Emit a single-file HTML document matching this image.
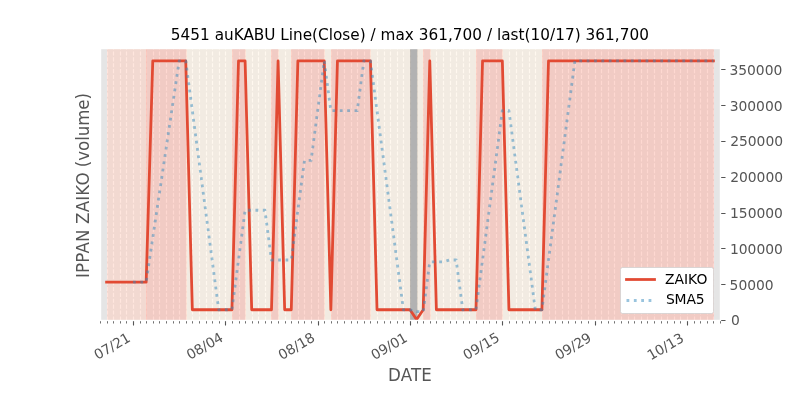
<!DOCTYPE html>
<html><head><meta charset="utf-8"><title>5451 auKABU</title><style>html,body{margin:0;padding:0;background:#fff;overflow:hidden}svg{display:block}</style></head><body>
<svg width="800" height="400" viewBox="0 0 800 400">
<defs><clipPath id="ax"><rect x="100" y="48" width="620" height="272"/></clipPath></defs>
<rect width="800" height="400" fill="#fff"/>
<rect x="100" y="48" width="620" height="272" fill="#e5e5e5"/>
<g clip-path="url(#ax)">
<path d="M100.5 320.5V48.5M107.5 320.5V48.5M113.5 320.5V48.5M120.5 320.5V48.5M126.5 320.5V48.5M133.5 320.5V48.5M140.5 320.5V48.5M146.5 320.5V48.5M153.5 320.5V48.5M159.5 320.5V48.5M166.5 320.5V48.5M173.5 320.5V48.5M179.5 320.5V48.5M186.5 320.5V48.5M192.5 320.5V48.5M199.5 320.5V48.5M206.5 320.5V48.5M212.5 320.5V48.5M219.5 320.5V48.5M225.5 320.5V48.5M232.5 320.5V48.5M239.5 320.5V48.5M245.5 320.5V48.5M252.5 320.5V48.5M258.5 320.5V48.5M265.5 320.5V48.5M271.5 320.5V48.5M278.5 320.5V48.5M285.5 320.5V48.5M291.5 320.5V48.5M298.5 320.5V48.5M304.5 320.5V48.5M311.5 320.5V48.5M318.5 320.5V48.5M324.5 320.5V48.5M331.5 320.5V48.5M337.5 320.5V48.5M344.5 320.5V48.5M351.5 320.5V48.5M357.5 320.5V48.5M364.5 320.5V48.5M370.5 320.5V48.5M377.5 320.5V48.5M384.5 320.5V48.5M390.5 320.5V48.5M397.5 320.5V48.5M403.5 320.5V48.5M410.5 320.5V48.5M417.5 320.5V48.5M423.5 320.5V48.5M430.5 320.5V48.5M436.5 320.5V48.5M443.5 320.5V48.5M450.5 320.5V48.5M456.5 320.5V48.5M463.5 320.5V48.5M469.5 320.5V48.5M476.5 320.5V48.5M483.5 320.5V48.5M489.5 320.5V48.5M496.5 320.5V48.5M502.5 320.5V48.5M509.5 320.5V48.5M516.5 320.5V48.5M522.5 320.5V48.5M529.5 320.5V48.5M535.5 320.5V48.5M542.5 320.5V48.5M549.5 320.5V48.5M555.5 320.5V48.5M562.5 320.5V48.5M568.5 320.5V48.5M575.5 320.5V48.5M581.5 320.5V48.5M588.5 320.5V48.5M595.5 320.5V48.5M601.5 320.5V48.5M608.5 320.5V48.5M614.5 320.5V48.5M621.5 320.5V48.5M628.5 320.5V48.5M634.5 320.5V48.5M641.5 320.5V48.5M647.5 320.5V48.5M654.5 320.5V48.5M661.5 320.5V48.5M667.5 320.5V48.5M674.5 320.5V48.5M680.5 320.5V48.5M687.5 320.5V48.5M694.5 320.5V48.5M700.5 320.5V48.5M707.5 320.5V48.5M713.5 320.5V48.5M720.5 320.5V48.5" fill="none" stroke="#fff" stroke-width="1.111" stroke-dasharray="4.111 1.778"/>
<rect x="107.5" y="48.5" width="39" height="272" fill="#ffcdbd" fill-opacity=".5" stroke="#ffcdbd" stroke-opacity=".5" stroke-width="0.694"/>
<rect x="146.5" y="48.5" width="40" height="272" fill="#fdb1a3" fill-opacity=".5" stroke="#fdb1a3" stroke-opacity=".5" stroke-width="0.694"/>
<rect x="186.5" y="48.5" width="46" height="272" fill="#fff1df" fill-opacity=".5" stroke="#fff1df" stroke-opacity=".5" stroke-width="0.694"/>
<rect x="232.5" y="48.5" width="13" height="272" fill="#fdb1a3" fill-opacity=".5" stroke="#fdb1a3" stroke-opacity=".5" stroke-width="0.694"/>
<rect x="245.5" y="48.5" width="26" height="272" fill="#fff1df" fill-opacity=".5" stroke="#fff1df" stroke-opacity=".5" stroke-width="0.694"/>
<rect x="271.5" y="48.5" width="7" height="272" fill="#fdb1a3" fill-opacity=".5" stroke="#fdb1a3" stroke-opacity=".5" stroke-width="0.694"/>
<rect x="278.5" y="48.5" width="13" height="272" fill="#fff1df" fill-opacity=".5" stroke="#fff1df" stroke-opacity=".5" stroke-width="0.694"/>
<rect x="291.5" y="48.5" width="33" height="272" fill="#fdb1a3" fill-opacity=".5" stroke="#fdb1a3" stroke-opacity=".5" stroke-width="0.694"/>
<rect x="324.5" y="48.5" width="7" height="272" fill="#fff1df" fill-opacity=".5" stroke="#fff1df" stroke-opacity=".5" stroke-width="0.694"/>
<rect x="331.5" y="48.5" width="39" height="272" fill="#fdb1a3" fill-opacity=".5" stroke="#fdb1a3" stroke-opacity=".5" stroke-width="0.694"/>
<rect x="370.5" y="48.5" width="40" height="272" fill="#fff1df" fill-opacity=".5" stroke="#fff1df" stroke-opacity=".5" stroke-width="0.694"/>
<rect x="410.5" y="48.5" width="7" height="272" fill="#808080" fill-opacity=".5" stroke="#808080" stroke-opacity=".5" stroke-width="0.694"/>
<rect x="417.5" y="48.5" width="6" height="272" fill="#fff1df" fill-opacity=".5" stroke="#fff1df" stroke-opacity=".5" stroke-width="0.694"/>
<rect x="423.5" y="48.5" width="7" height="272" fill="#fdb1a3" fill-opacity=".5" stroke="#fdb1a3" stroke-opacity=".5" stroke-width="0.694"/>
<rect x="430.5" y="48.5" width="46" height="272" fill="#fff1df" fill-opacity=".5" stroke="#fff1df" stroke-opacity=".5" stroke-width="0.694"/>
<rect x="476.5" y="48.5" width="26" height="272" fill="#fdb1a3" fill-opacity=".5" stroke="#fdb1a3" stroke-opacity=".5" stroke-width="0.694"/>
<rect x="502.5" y="48.5" width="40" height="272" fill="#fff1df" fill-opacity=".5" stroke="#fff1df" stroke-opacity=".5" stroke-width="0.694"/>
<rect x="542.5" y="48.5" width="171" height="272" fill="#fdb1a3" fill-opacity=".5" stroke="#fdb1a3" stroke-opacity=".5" stroke-width="0.694"/>
<path d="M106.596 282.113L113.191 282.113L119.787 282.113L126.383 282.113L132.979 282.113L139.574 282.113L146.17 282.113L152.766 60.952L159.362 60.952L165.957 60.952L172.553 60.952L179.149 60.952L185.745 60.952L192.34 309.758L198.936 309.758L205.532 309.758L212.128 309.758L218.723 309.758L225.319 309.758L231.915 309.758L238.511 60.952L245.106 60.952L251.702 309.758L258.298 309.758L264.894 309.758L271.489 309.758L278.085 60.952L284.681 309.758L291.277 309.758L297.872 60.952L304.468 60.952L311.064 60.952L317.66 60.952L324.255 60.952L330.851 309.758L337.447 60.952L344.043 60.952L350.638 60.952L357.234 60.952L363.83 60.952L370.426 60.952L377.021 309.758L383.617 309.758L390.213 309.758L396.809 309.758L403.404 309.758L410 309.758L416.596 319.499L423.191 309.758L429.787 60.952L436.383 309.758L442.979 309.758L449.574 309.758L456.17 309.758L462.766 309.758L469.362 309.758L475.957 309.758L482.553 60.952L489.149 60.952L495.745 60.952L502.34 60.952L508.936 309.758L515.532 309.758L522.128 309.758L528.723 309.758L535.319 309.758L541.915 309.758L548.511 60.952L555.106 60.952L561.702 60.952L568.298 60.952L574.894 60.952L581.489 60.952L588.085 60.952L594.681 60.952L601.277 60.952L607.872 60.952L614.468 60.952L621.064 60.952L627.66 60.952L634.255 60.952L640.851 60.952L647.447 60.952L654.043 60.952L660.638 60.952L667.234 60.952L673.83 60.952L680.426 60.952L687.021 60.952L693.617 60.952L700.213 60.952L706.809 60.952L713.404 60.952" fill="none" stroke="#e24a33" stroke-width="2.778" stroke-linejoin="round" stroke-linecap="square"/>
<path d="M132.979 282.113L139.574 282.113L146.17 282.113L152.766 237.881L159.362 193.649L165.957 149.417L172.553 105.185L179.149 60.952L185.745 60.952L192.34 110.714L198.936 160.475L205.532 210.236L212.128 259.997L218.723 309.758L225.319 309.758L231.915 309.758L238.511 259.997L245.106 210.236L251.702 210.236L258.298 210.236L264.894 210.236L271.489 259.997L278.085 259.997L284.681 259.997L291.277 259.997L297.872 210.236L304.468 160.475L311.064 160.475L317.66 110.714L324.255 60.952L330.851 110.714L337.447 110.714L344.043 110.714L350.638 110.714L357.234 110.714L363.83 60.952L370.426 60.952L377.021 110.714L383.617 160.475L390.213 210.236L396.809 259.997L403.404 309.758L410 309.758L416.596 311.706L423.191 311.706L429.787 261.945L436.383 261.945L442.979 261.945L449.574 259.997L456.17 259.997L462.766 309.758L469.362 309.758L475.957 309.758L482.553 259.997L489.149 210.236L495.745 160.475L502.34 110.714L508.936 110.714L515.532 160.475L522.128 210.236L528.723 259.997L535.319 309.758L541.915 309.758L548.511 259.997L555.106 210.236L561.702 160.475L568.298 110.714L574.894 60.952L581.489 60.952L588.085 60.952L594.681 60.952L601.277 60.952L607.872 60.952L614.468 60.952L621.064 60.952L627.66 60.952L634.255 60.952L640.851 60.952L647.447 60.952L654.043 60.952L660.638 60.952L667.234 60.952L673.83 60.952L680.426 60.952L687.021 60.952L693.617 60.952L700.213 60.952L706.809 60.952L713.404 60.952" fill="none" stroke="#348abd" stroke-opacity=".5" stroke-width="2.778" stroke-linejoin="round" stroke-dasharray="2.778 4.583"/>
</g>
<path d="M100.5 320.5V323.5M107.5 320.5V323.5M113.5 320.5V323.5M120.5 320.5V323.5M126.5 320.5V323.5M140.5 320.5V323.5M146.5 320.5V323.5M153.5 320.5V323.5M159.5 320.5V323.5M166.5 320.5V323.5M173.5 320.5V323.5M179.5 320.5V323.5M186.5 320.5V323.5M192.5 320.5V323.5M199.5 320.5V323.5M206.5 320.5V323.5M212.5 320.5V323.5M219.5 320.5V323.5M232.5 320.5V323.5M239.5 320.5V323.5M245.5 320.5V323.5M252.5 320.5V323.5M258.5 320.5V323.5M265.5 320.5V323.5M271.5 320.5V323.5M278.5 320.5V323.5M285.5 320.5V323.5M291.5 320.5V323.5M298.5 320.5V323.5M304.5 320.5V323.5M311.5 320.5V323.5M324.5 320.5V323.5M331.5 320.5V323.5M337.5 320.5V323.5M344.5 320.5V323.5M351.5 320.5V323.5M357.5 320.5V323.5M364.5 320.5V323.5M370.5 320.5V323.5M377.5 320.5V323.5M384.5 320.5V323.5M390.5 320.5V323.5M397.5 320.5V323.5M403.5 320.5V323.5M417.5 320.5V323.5M423.5 320.5V323.5M430.5 320.5V323.5M436.5 320.5V323.5M443.5 320.5V323.5M450.5 320.5V323.5M456.5 320.5V323.5M463.5 320.5V323.5M469.5 320.5V323.5M476.5 320.5V323.5M483.5 320.5V323.5M489.5 320.5V323.5M496.5 320.5V323.5M509.5 320.5V323.5M516.5 320.5V323.5M522.5 320.5V323.5M529.5 320.5V323.5M535.5 320.5V323.5M542.5 320.5V323.5M549.5 320.5V323.5M555.5 320.5V323.5M562.5 320.5V323.5M568.5 320.5V323.5M575.5 320.5V323.5M581.5 320.5V323.5M588.5 320.5V323.5M601.5 320.5V323.5M608.5 320.5V323.5M614.5 320.5V323.5M621.5 320.5V323.5M628.5 320.5V323.5M634.5 320.5V323.5M641.5 320.5V323.5M647.5 320.5V323.5M654.5 320.5V323.5M661.5 320.5V323.5M667.5 320.5V323.5M674.5 320.5V323.5M680.5 320.5V323.5M694.5 320.5V323.5M700.5 320.5V323.5M707.5 320.5V323.5M713.5 320.5V323.5M720.5 320.5V323.5" fill="none" stroke="#555" stroke-width="0.833"/>
<path d="M133.5 320.5V325.5M225.5 320.5V325.5M318.5 320.5V325.5M410.5 320.5V325.5M502.5 320.5V325.5M595.5 320.5V325.5M687.5 320.5V325.5" fill="none" stroke="#555" stroke-width="1.111"/>
<path d="M720.5 320.5H725.5M720.5 284.5H725.5M720.5 248.5H725.5M720.5 213.5H725.5M720.5 177.5H725.5M720.5 141.5H725.5M720.5 105.5H725.5M720.5 69.5H725.5" fill="none" stroke="#555" stroke-width="1.111"/>
<rect x="100.5" y="48.5" width="620" height="272" fill="none" stroke="#fff" stroke-width="1.389"/>
<g font-family="'DejaVu Sans','Liberation Sans',sans-serif" fill="#555" font-size="13.889">
<text transform="translate(96.881 360.439) rotate(-30)" x="0.7 9.296 17.892 22.435 31.031">07/21</text>
<text transform="translate(189.416 360.397) rotate(-30)" x="0.7 9.296 18.015 22.558 31.154">08/04</text>
<text transform="translate(281.271 360.478) rotate(-30)" x="0.7 9.297 18.017 22.561 31.28">08/18</text>
<text transform="translate(373.892 360.499) rotate(-30)" x="0.7 9.296 18.016 22.559 31.156">09/01</text>
<text transform="translate(466.003 360.495) rotate(-30)" x="0.7 9.296 18.016 22.559 31.279">09/15</text>
<text transform="translate(557.875 360.577) rotate(-30)" x="0.7 9.296 18.016 22.559 31.156">09/29</text>
<text transform="translate(650.22 360.91) rotate(-30)" x="0.7 9.419 18.016 22.559 31.279">10/13</text>
<text x="730.912" y="324.867">0</text>
<text x="729.62 738.433 747.245 756.058 764.87" y="289.856">50000</text>
<text x="729.886 738.761 747.574 756.386 765.199 774.011" y="253.83">100000</text>
<text x="729.987 738.862 747.675 756.487 765.3 774.112" y="217.82">150000</text>
<text x="730.128 738.941 747.753 756.566 765.378 774.191" y="181.838">200000</text>
<text x="730.133 738.946 747.758 756.571 765.383 774.196" y="145.828">250000</text>
<text x="729.666 738.479 747.291 756.104 764.916 773.729" y="110.813">300000</text>
<text x="729.414 738.227 747.039 755.852 764.664 773.477" y="74.801">350000</text>
</g>
<g font-family="'DejaVu Sans','Liberation Sans',sans-serif" fill="#555" font-size="16.667">
<text transform="translate(0 381) scale(1 1.07)" x="388.019 400.721 411.01 421.299">DATE</text>
<text transform="translate(89.276 185.421) rotate(-90) scale(1 1.07)" x="-92.5 -87.521 -77.306 -68.113 -56.494 -43.854 -38.492 -26.873 -15.254 -10.275 -0.06 12.99 18.21 24.673 34.492 44.559 49.158 59.598 75.755 85.947">IPPAN ZAIKO (volume)</text>
</g>
<text x="170.752 180.502 190.252 200.002 209.752 214.627 224.002 233.627 243.377 253.752 264.252 275.377 280.252 288.752 293.002 302.627 312.002 318.002 328.627 332.877 342.252 350.252 359.627 365.627 370.502 375.627 380.502 395.377 404.752 413.752 418.627 428.377 438.127 447.877 452.752 462.502 472.252 482.002 486.877 492.002 496.877 501.127 510.502 518.503 524.503 530.503 540.253 550.003 555.128 564.878 574.628 580.628 585.503 595.253 605.003 614.753 619.628 629.378 639.128" y="39.602" font-family="'DejaVu Sans','Liberation Sans',sans-serif" font-size="15.278" fill="#000">5451 auKABU Line(Close) / max 361,700 / last(10/17) 361,700</text>
<rect x="620.5" y="267.5" width="93" height="46" rx="2" fill="#fff" stroke="#ccc" stroke-width="0.694"/>
<path d="M626.5 279.5H654.5" fill="none" stroke="#e24a33" stroke-width="2.778" stroke-linecap="square"/>
<path d="M626.5 300.5H654.5" fill="none" stroke="#348abd" stroke-opacity=".5" stroke-width="2.778" stroke-dasharray="2.778 4.583"/>
<g font-family="'DejaVu Sans','Liberation Sans',sans-serif" fill="#000" font-size="13.889">
<text x="664.946 674.446 683.946 688.071 696.446" y="283.511">ZAIKO</text>
<text x="665.909 674.546 686.393 695.771" y="303.616">SMA5</text>
</g>
</svg>
</body></html>
